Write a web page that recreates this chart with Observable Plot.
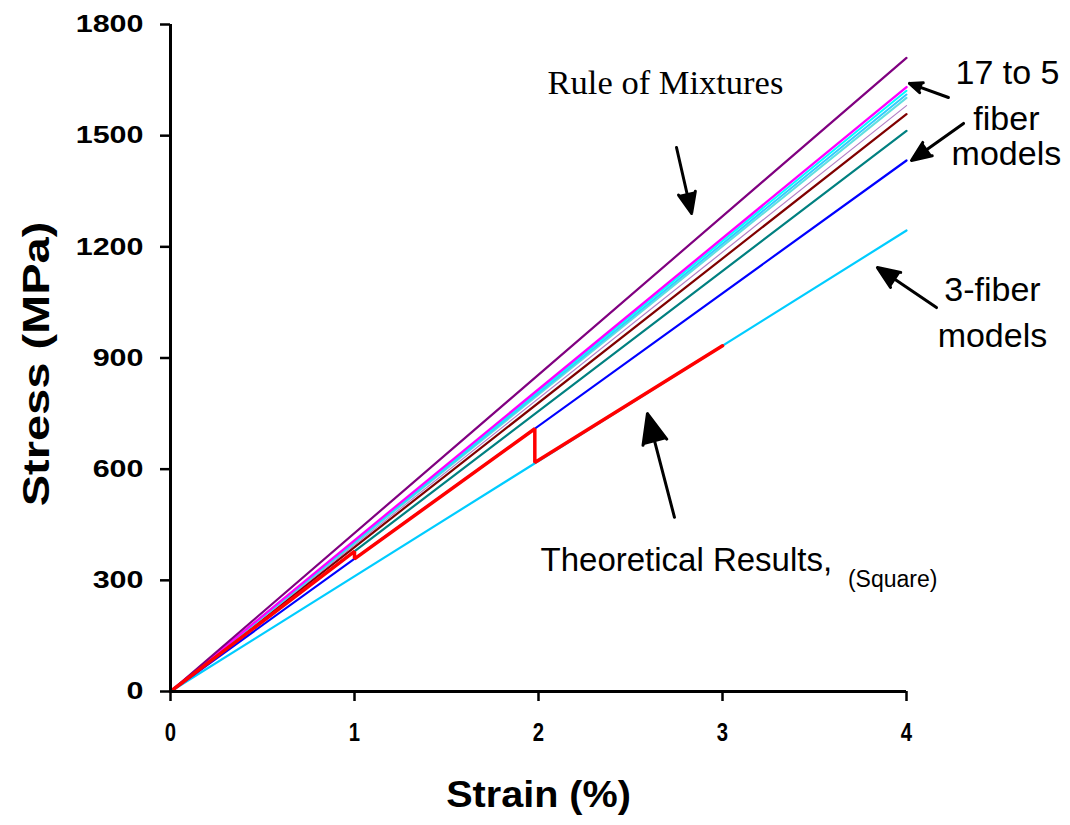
<!DOCTYPE html>
<html>
<head>
<meta charset="utf-8">
<script src="https://cdn.jsdelivr.net/npm/d3@7"></script>
<script src="https://cdn.jsdelivr.net/npm/@observablehq/plot@0.6"></script>
<style>
  html, body { margin: 0; padding: 0; background: #fff; }
  #chart { position: absolute; left: 0; top: 0; }
</style>
</head>
<body>
<div id="chart"></div>
<script>
// Axis ticks
const xTicks = [0, 1, 2, 3, 4];
const yTicks = [0, 300, 600, 900, 1200, 1500, 1800];

// Linear stress–strain models: each runs from the origin to its end point
const modelKeys   = ["rom", "f17", "f15", "f13", "f11", "f9", "f7", "f6", "f5", "f3"];
const endStrain   = [4, 4, 4, 4, 4, 4, 4, 4, 4, 4];          // %
const endStress   = [1710, 1631, 1621, 1611, 1602, 1581, 1558, 1513, 1433, 1244]; // MPa

// Theoretical (square array) progressive-failure curve
const theoryStrain = [0, 1, 1, 1.98, 1.98, 3];
const theoryStress = [0, 378, 358, 709, 618, 933];

// Line styling per model
const modelColor = ["#800080", "#ff00ff", "#00ffff", "#33ccff", "#5fe0e0", "#b27fc6", "#800000", "#008080", "#0000ff", "#00ccff"];
const modelWidth = [2.2, 2.4, 2, 2, 2, 1.2, 2.2, 2.2, 2.2, 2.2];

const modelRows = modelKeys.map((k, i) => [
  {key: k, strain: 0, stress: 0},
  {key: k, strain: endStrain[i], stress: endStress[i]}
]);
const theoryRows = theoryStrain.map((s, i) => ({strain: s, stress: theoryStress[i]}));

// Annotation texts and pointer arrows (in data units)
const notes = [
  {text: "Rule of Mixtures", x: 2.69, y: 1641, font: "Liberation Serif", size: 34.5, anchor: "middle"},
  {text: "17 to 5", x: 4.549, y: 1668, size: 34, anchor: "middle"},
  {text: "fiber", x: 4.543, y: 1544, size: 34, anchor: "middle"},
  {text: "models", x: 4.543, y: 1449, size: 34, anchor: "middle"},
  {text: "3-fiber", x: 4.467, y: 1082, size: 34, anchor: "middle"},
  {text: "models", x: 4.467, y: 958, size: 34, anchor: "middle"},
  {text: "Theoretical Results,", x: 2.011, y: 355, size: 33, anchor: "start"},
  {text: "(Square)", x: 4.168, y: 303, size: 23, anchor: "end"}
];
const pointers = [
  {x1: 2.750, y1: 1468, x2: 2.832, y2: 1290},
  {x1: 4.228, y1: 1603, x2: 4.016, y2: 1641},
  {x1: 4.310, y1: 1533, x2: 4.027, y2: 1433},
  {x1: 4.163, y1: 1036, x2: 3.842, y2: 1144},
  {x1: 2.739, y1: 470, x2: 2.592, y2: 750}
];

const order = modelKeys.map((_, i) => i).reverse();

const chart = Plot.plot({
  width: 1070,
  height: 825,
  marginLeft: 170,
  marginRight: 164,
  marginTop: 24,
  marginBottom: 134,
  style: {fontFamily: "'Liberation Sans', Arial, sans-serif", background: "#fff", color: "#000", overflow: "visible"},
  x: {domain: [0, 4], label: null},
  y: {domain: [0, 1800], label: null},
  marks: [
    ...order.map(i => Plot.line(modelRows[i], {
      x: "strain", y: "stress", stroke: modelColor[i], strokeWidth: modelWidth[i]
    })),
    Plot.line(theoryRows, {x: "strain", y: "stress", stroke: "#ff0000", strokeWidth: 3.5, strokeLinejoin: "miter"}),
    Plot.ruleX([0], {y1: 0, y2: 1800, stroke: "#000", strokeWidth: 3}),
    Plot.ruleY([0], {x1: 0, x2: 4, stroke: "#000", strokeWidth: 3}),
    Plot.axisY({ticks: yTicks, tickSize: 10, tickPadding: 17, strokeWidth: 2.5, label: null, tickFormat: d => String(d)}),
    Plot.axisX({ticks: xTicks, tickSize: 10, tickPadding: 21, strokeWidth: 2.5, label: null, tickFormat: d => String(d)}),
    Plot.text(["Strain (%)"], {frameAnchor: "bottom", lineAnchor: "middle", dy: 104, fontSize: 37, fontWeight: "bold", className: "xtitle"}),
    Plot.text(["Stress (MPa)"], {frameAnchor: "left", textAnchor: "middle", lineAnchor: "middle", dx: -133, dy: 6, rotate: -90, fontSize: 37, fontWeight: "bold", className: "ytitle"}),
    Plot.arrow(pointers, {x1: "x1", y1: "y1", x2: "x2", y2: "y2", stroke: "#000", fill: "#000", strokeWidth: 3, headLength: 16, headAngle: 45}),
    ...notes.map(n => Plot.text([n], {
      x: "x", y: "y", text: "text", fontSize: n.size, textAnchor: n.anchor,
      fontFamily: n.font || "'Liberation Sans', Arial, sans-serif", fill: "#000"
    }))
  ]
});

document.getElementById("chart").appendChild(chart);

// Tick label typography: wide bold stress values, narrow tall strain values
const svg = d3.select(chart);
function stretch(sel, sx) {
  sel.each(function () {
    const t = this.getAttribute("transform") || "";
    this.setAttribute("transform", t + ` scale(${sx},1)`);
  });
}
const yLabels = svg.selectAll("g[aria-label='y-axis tick label'] text")
  .style("font-size", "24px").style("font-weight", "bold");
stretch(yLabels, 1.27);
const xLabels = svg.selectAll("g[aria-label='x-axis tick label'] text")
  .style("font-size", "26px").style("font-weight", "bold");
stretch(xLabels, 0.78);
stretch(svg.selectAll(".ytitle text"), 1.27);
stretch(svg.selectAll(".xtitle text"), 1.07);
</script>
</body>
</html>
